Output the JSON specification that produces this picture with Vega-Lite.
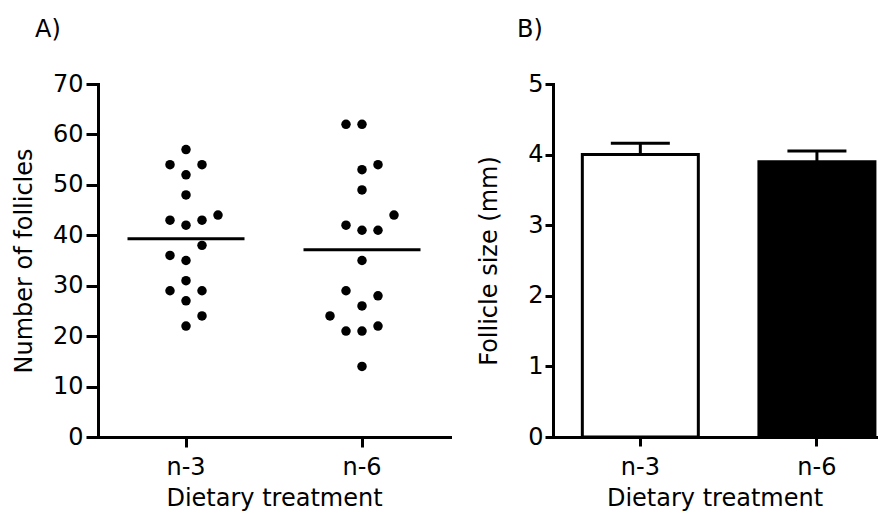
{
  "$schema": "https://vega.github.io/schema/vega-lite/v6.json",
  "background": "white",
  "padding": {"left": 12, "top": 18, "right": 5, "bottom": 5},
  "spacing": 27,
  "config": {
    "font": "DejaVu Sans",
    "view": {"stroke": null},
    "axis": {
      "domainColor": "black", "domainWidth": 3, "domainCap": "square",
      "tickColor": "black", "tickWidth": 3, "tickSize": 10,
      "labelFont": "DejaVu Sans", "titleFont": "DejaVu Sans",
      "labelFontSize": 24, "titleFontSize": 24,
      "labelColor": "black", "titleColor": "black",
      "titleFontWeight": "normal", "grid": false, "labelPadding": 3
    },
    "title": {"font": "DejaVu Sans", "fontSize": 24, "fontWeight": "normal", "anchor": "start", "frame": "group", "color": "black"}
  },
  "hconcat": [
    {
      "title": {"text": "A)", "dx": -63, "offset": 30},
      "width": 352,
      "height": 353,
      "data": {"values": [
        {"group": "n-3", "count": 57, "lane": 0},
        {"group": "n-3", "count": 54, "lane": -1},
        {"group": "n-3", "count": 54, "lane": 1},
        {"group": "n-3", "count": 52, "lane": 0},
        {"group": "n-3", "count": 48, "lane": 0},
        {"group": "n-3", "count": 44, "lane": 2},
        {"group": "n-3", "count": 43, "lane": -1},
        {"group": "n-3", "count": 43, "lane": 1},
        {"group": "n-3", "count": 42, "lane": 0},
        {"group": "n-3", "count": 38, "lane": 1},
        {"group": "n-3", "count": 36, "lane": -1},
        {"group": "n-3", "count": 35, "lane": 0},
        {"group": "n-3", "count": 31, "lane": 0},
        {"group": "n-3", "count": 29, "lane": -1},
        {"group": "n-3", "count": 29, "lane": 1},
        {"group": "n-3", "count": 27, "lane": 0},
        {"group": "n-3", "count": 24, "lane": 1},
        {"group": "n-3", "count": 22, "lane": 0},
        {"group": "n-6", "count": 62, "lane": -1},
        {"group": "n-6", "count": 62, "lane": 0},
        {"group": "n-6", "count": 54, "lane": 1},
        {"group": "n-6", "count": 53, "lane": 0},
        {"group": "n-6", "count": 49, "lane": 0},
        {"group": "n-6", "count": 44, "lane": 2},
        {"group": "n-6", "count": 42, "lane": -1},
        {"group": "n-6", "count": 41, "lane": 0},
        {"group": "n-6", "count": 41, "lane": 1},
        {"group": "n-6", "count": 35, "lane": 0},
        {"group": "n-6", "count": 29, "lane": -1},
        {"group": "n-6", "count": 28, "lane": 1},
        {"group": "n-6", "count": 26, "lane": 0},
        {"group": "n-6", "count": 24, "lane": -2},
        {"group": "n-6", "count": 22, "lane": 1},
        {"group": "n-6", "count": 21, "lane": -1},
        {"group": "n-6", "count": 21, "lane": 0},
        {"group": "n-6", "count": 14, "lane": 0}
      ]},
      "layer": [
        {
          "mark": {"type": "circle", "size": 90, "opacity": 1, "color": "black"},
          "encoding": {
            "x": {"field": "group", "type": "nominal", "scale": {"type": "band", "paddingInner": 0, "paddingOuter": 0},
                  "axis": {"title": "Dietary treatment", "labelAngle": 0, "tickSize": 10, "labelPadding": 8, "titlePadding": 7}},
            "xOffset": {"field": "lane", "type": "quantitative", "scale": {"domain": [-5.5, 5.5], "range": [0, 176]}},
            "y": {"field": "count", "type": "quantitative", "scale": {"domain": [0, 70], "nice": false},
                  "axis": {"values": [0, 10, 20, 30, 40, 50, 60, 70], "title": "Number of follicles", "tickSize": 12, "titlePadding": 16}}
          }
        },
        {
          "mark": {"type": "tick", "color": "black", "thickness": 3, "size": 117, "opacity": 1},
          "encoding": {
            "x": {"field": "group", "type": "nominal", "axis": {"title": "Dietary treatment", "labelAngle": 0}},
            "y": {"aggregate": "mean", "field": "count", "type": "quantitative", "axis": {"title": "Number of follicles"}}
          }
        }
      ]
    },
    {
      "title": {"text": "B)", "dx": -36, "offset": 30},
      "width": 323,
      "height": 353,
      "data": {"values": [
        {"group": "n-3", "mean": 4.0, "se": 0.16},
        {"group": "n-6", "mean": 3.9, "se": 0.15}
      ]},
      "transform": [{"calculate": "datum.mean + datum.se", "as": "upper"}],
      "layer": [
        {
          "mark": {"type": "bar", "stroke": "black", "strokeWidth": 3, "width": 116},
          "encoding": {
            "x": {"field": "group", "type": "nominal",
                  "scale": {"type": "band", "paddingInner": 0.331, "paddingOuter": 0.08, "align": 1},
                  "axis": {"title": "Dietary treatment", "labelAngle": 0, "tickSize": 9, "labelPadding": 9, "titlePadding": 7}},
            "y": {"field": "mean", "type": "quantitative", "scale": {"domain": [0, 5], "nice": false},
                  "axis": {"title": "Follicle size (mm)", "values": [0, 0.5, 1, 1.5, 2, 2.5, 3, 3.5, 4, 4.5, 5],
                           "format": "d",
                           "labelExpr": "datum.value % 1 === 0 ? datum.label : ''",
                           "tickSize": {"condition": {"test": "datum.value % 1 !== 0", "value": 4}, "value": 8},
                           "labelPadding": 2,
                           "titlePadding": 26}},
            "fill": {"field": "group", "type": "nominal", "scale": {"domain": ["n-3", "n-6"], "range": ["white", "black"]}, "legend": null}
          }
        },
        {
          "mark": {"type": "rule", "color": "black", "strokeWidth": 3},
          "encoding": {
            "x": {"field": "group", "type": "nominal"},
            "y": {"field": "mean", "type": "quantitative", "axis": {"title": "Follicle size (mm)"}},
            "y2": {"field": "upper"}
          }
        },
        {
          "mark": {"type": "tick", "color": "black", "thickness": 3, "size": 59, "opacity": 1},
          "encoding": {
            "x": {"field": "group", "type": "nominal"},
            "y": {"field": "upper", "type": "quantitative", "axis": {"title": "Follicle size (mm)"}}
          }
        }
      ]
    }
  ]
}
